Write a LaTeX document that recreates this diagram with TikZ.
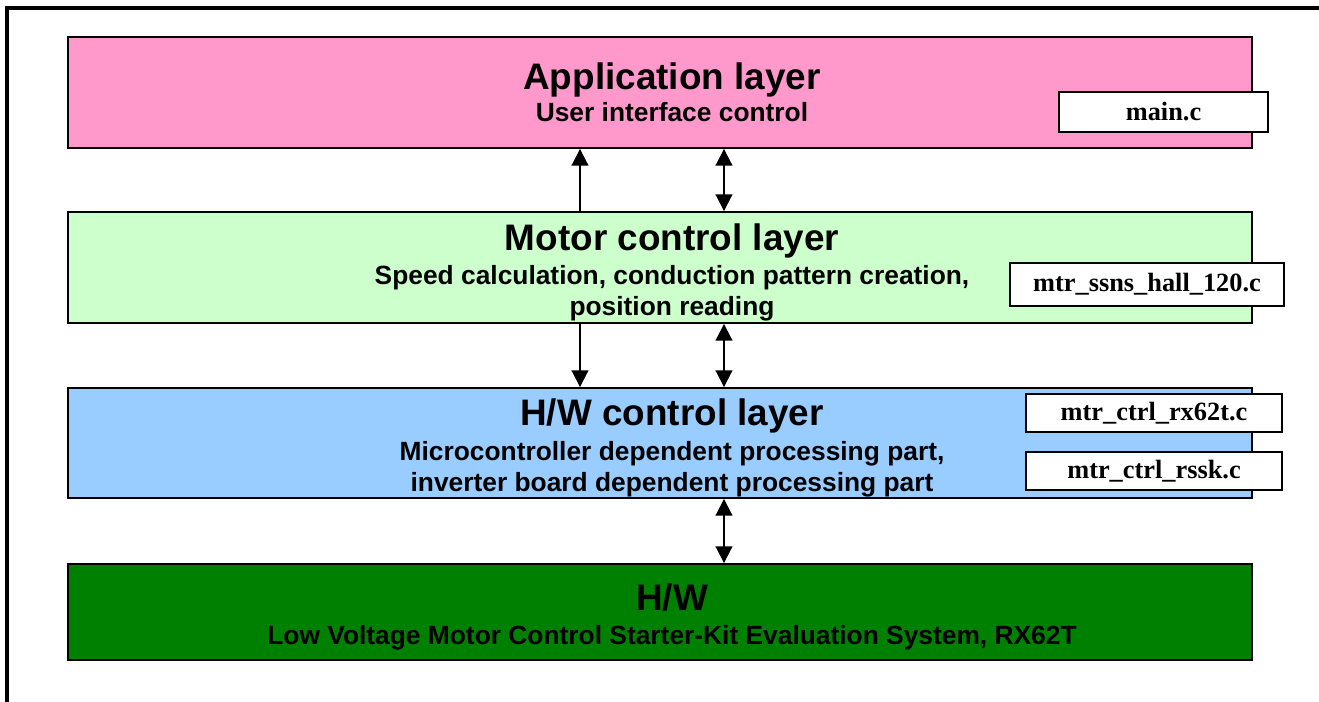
\documentclass[tikz,border=0pt]{standalone}
\usepackage{fontspec}
\setmainfont{Liberation Sans}
\newfontfamily\fileserif{Liberation Serif}
\usetikzlibrary{arrows.meta}

\definecolor{apppink}{HTML}{FF99CC}
\definecolor{motgreen}{HTML}{CCFFCC}
\definecolor{hwcblue}{HTML}{99CCFF}
\definecolor{hwgreen}{HTML}{008000}

\begin{document}
\begin{tikzpicture}[x=0.02cm,y=-0.02cm,
		layer/.style={draw=black,line width=1.1pt,minimum width=23.68cm,inner sep=0pt},
		filebox/.style={draw=black,fill=white,line width=0.9pt,inner sep=0pt,font=\fileserif\bfseries\fontsize{15}{18}\selectfont},
		ttl/.style={font=\bfseries\fontsize{21}{25}\selectfont,anchor=base,inner sep=0pt},
		sub/.style={font=\bfseries\fontsize{15}{17.6}\selectfont,align=center,inner sep=0pt},
		link/.style={line width=1.1pt,-{Triangle[length=9.5pt,width=9.5pt]}},
		dlink/.style={line width=1.1pt,{Triangle[length=9.5pt,width=9.5pt]}-{Triangle[length=9.5pt,width=9.5pt]}}]
		
		\useasboundingbox (0,0) rectangle (1319,702);
		\draw[line width=1.8pt] (7,702) -- (7,8) -- (1319,8);
		
		\node[layer,fill=apppink,minimum height=2.22cm] (app) at (660,92.5) {};
		\node[layer,fill=motgreen,minimum height=2.22cm] (mot) at (660,267.5) {};
		\node[layer,fill=hwcblue,minimum height=2.2cm] (hwc) at (660,443) {};
		\node[layer,fill=hwgreen,minimum height=1.92cm] (hw) at (660,612) {};
		
		\node[ttl] (apptitle) at (672,90) {Application layer};
		\node[sub,anchor=base] (appsub) at (672,122) {User interface control};
		\node[ttl] (mottitle) at (672,251) {Motor control layer};
		\node[sub] (motsub) at (672,293) {Speed calculation, conduction pattern creation,\\position reading};
		\node[ttl] (hwctitle) at (672,426) {H/W control layer};
		\node[sub] (hwcsub) at (672,469) {Microcontroller dependent processing part,\\inverter board dependent processing part};
		\node[ttl] (hwtitle) at (672,610) {H/W};
		\node[sub,anchor=base] (hwsub) at (672,644) {Low Voltage Motor Control Starter-Kit Evaluation System, RX62T};
		
		\node[filebox,minimum width=4.18cm,minimum height=0.8cm] (mainc) at (1163.5,112) {main.c};
		\node[filebox,minimum width=5.48cm,minimum height=0.86cm] (ssns) at (1147,284.5) {mtr\_ssns\_hall\_120.c};
		\node[filebox,minimum width=5.12cm,minimum height=0.76cm] (rxc) at (1154,413) {mtr\_ctrl\_rx62t.c};
		\node[filebox,minimum width=5.12cm,minimum height=0.76cm] (rssk) at (1154,471) {mtr\_ctrl\_rssk.c};
		
		\coordinate (la) at (580,0);
		\coordinate (ra) at (724,0);
		\draw[link] (mot.north -| la) -- (app.south -| la);
		\draw[dlink] (mot.north -| ra) -- (app.south -| ra);
		\draw[link] (mot.south -| la) -- (hwc.north -| la);
		\draw[dlink] (mot.south -| ra) -- (hwc.north -| ra);
		\draw[dlink] (hwc.south -| ra) -- (hw.north -| ra);
\end{tikzpicture}
\end{document}
